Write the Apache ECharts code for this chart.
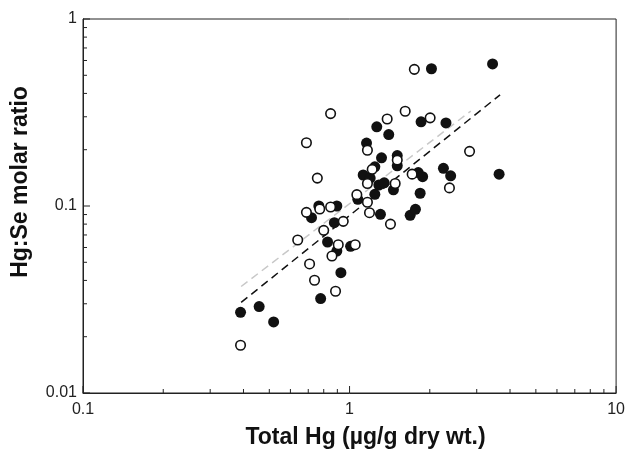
<!DOCTYPE html>
<html>
<head>
<meta charset="utf-8">
<script src="https://cdn.jsdelivr.net/npm/echarts@6/dist/echarts.min.js"></script>
<style>html,body{margin:0;padding:0;background:#fff}#c{width:628px;height:454px}</style>
</head>
<body>
<div id="c"></div>
<script>
// Filled circles [Total Hg, Hg:Se molar ratio]
var filledPts = [
  [0.390,0.0270],[0.458,0.0290],[0.519,0.0240],[0.779,0.0320],[0.928,0.0440],
  [0.896,0.0574],[0.827,0.0642],[1.009,0.0609],[0.720,0.0866],[0.767,0.100],
  [0.896,0.100],[0.877,0.0814],[1.074,0.1086],[1.244,0.1155],[1.306,0.0903],
  [1.688,0.0892],[1.767,0.096],[1.461,0.122],[1.840,0.117],[1.288,0.1295],
  [1.349,0.133],[1.125,0.1465],[1.195,0.141],[1.244,0.162],[1.318,0.181],
  [1.510,0.186],[1.510,0.164],[1.158,0.217],[1.265,0.265],[1.403,0.241],
  [1.855,0.282],[2.30,0.278],[2.029,0.542],[3.44,0.575],[3.64,0.148],
  [2.25,0.159],[2.395,0.145],[1.81,0.151],[1.88,0.1435]
];
// Open circles
var openPts = [
  [0.390,0.0180],[0.886,0.035],[0.739,0.0401],[0.708,0.049],[0.859,0.054],
  [0.907,0.0621],[1.05,0.0621],[0.639,0.0658],[0.800,0.0741],[0.947,0.0828],
  [0.689,0.0925],[0.773,0.0964],[0.849,0.0988],[0.757,0.141],[0.689,0.218],
  [0.849,0.312],[1.065,0.115],[1.167,0.1047],[1.188,0.0921],[1.424,0.080],
  [1.167,0.132],[1.483,0.132],[1.216,0.157],[1.510,0.176],[1.167,0.1986],
  [1.384,0.292],[1.617,0.321],[1.75,0.538],[2.006,0.296],[2.82,0.196],
  [1.717,0.148],[2.37,0.125]
];
// Regression lines (endpoints)
var fitFilled = [[0.392,0.0305],[3.67,0.393]];
var fitOpen = [[0.392,0.0371],[2.85,0.322]];
// Axis ticks
var xMajorTicks = [0.1, 1, 10];
var yMajorTicks = [0.01, 0.1, 1];
var xMinorTicks = [0.2,0.3,0.4,0.5,0.6,0.7,0.8,0.9,2,3,4,5,6,7,8,9];
var yMinorTicks = [0.02,0.03,0.04,0.05,0.06,0.07,0.08,0.09,0.2,0.3,0.4,0.5,0.6,0.7,0.8,0.9];

var chart = echarts.init(document.getElementById('c'), null, {renderer:'canvas'});
var FONT = '"Liberation Sans", Arial, Helvetica, sans-serif';

function tickSeries(vals, isX, len) {
  return {
    type: 'custom', silent: true, z: 1,
    data: vals.map(function(v){ return [v]; }),
    renderItem: function(params, api) {
      var v = api.value(0);
      var p, shape;
      if (isX) {
        p = api.coord([v, 0.01]);
        shape = {x1: p[0], y1: p[1], x2: p[0], y2: p[1] - len};
      } else {
        p = api.coord([0.1, v]);
        shape = {x1: p[0], y1: p[1], x2: p[0] + len, y2: p[1]};
      }
      return {type: 'line', shape: shape, style: {stroke: '#222', lineWidth: 1}};
    }
  };
}

var fmt = function(v){ return String(+v.toPrecision(3)); };

chart.setOption({
  animation: false,
  backgroundColor: '#fff',
  grid: {left: 83, right: 11, top: 19, bottom: 61, show: true, borderColor: '#222', borderWidth: 1},
  xAxis: {
    type: 'log', logBase: 10, min: 0.1, max: 10,
    name: 'Total Hg (\u00b5g/g dry wt.)', nameLocation: 'middle', nameGap: 33,
    nameTextStyle: {fontFamily: FONT, fontSize: 23, fontWeight: 'bold', color: '#111', padding: [0,0,0,32]},
    axisLine: {lineStyle: {color: '#222', width: 1}},
    axisTick: {show: false},
    axisLabel: {formatter: fmt, fontFamily: FONT, fontSize: 16, color: '#222', margin: 9},
    splitLine: {show: false}
  },
  yAxis: {
    type: 'log', logBase: 10, min: 0.01, max: 1,
    name: 'Hg:Se molar ratio', nameLocation: 'middle', nameGap: 51,
    nameTextStyle: {fontFamily: FONT, fontSize: 23, fontWeight: 'bold', color: '#111', padding: [0,0,0,48]},
    axisLine: {lineStyle: {color: '#222', width: 1}},
    axisTick: {show: false},
    axisLabel: {formatter: fmt, fontFamily: FONT, fontSize: 16, color: '#222', margin: 6},
    splitLine: {show: false}
  },
  series: [
    tickSeries(xMinorTicks, true, 4),
    tickSeries(xMajorTicks, true, 7),
    tickSeries(yMinorTicks, false, 4),
    tickSeries(yMajorTicks, false, 7),
    {type: 'line', data: fitOpen, symbol: 'none', z: 2,
     lineStyle: {color: '#c8c8c8', width: 1.5, type: [8,5]}},
    {type: 'line', data: fitFilled, symbol: 'none', z: 2,
     lineStyle: {color: '#111', width: 1.5, type: [8,5]}},
    {type: 'scatter', data: filledPts, symbol: 'circle', symbolSize: 11, z: 3,
     itemStyle: {color: '#111', opacity: 1, borderWidth: 0}},
    {type: 'scatter', data: openPts, symbol: 'circle', symbolSize: 9.5, z: 4,
     itemStyle: {color: '#fff', opacity: 1, borderColor: '#111', borderWidth: 1.6}}
  ]
});
</script>
</body>
</html>
